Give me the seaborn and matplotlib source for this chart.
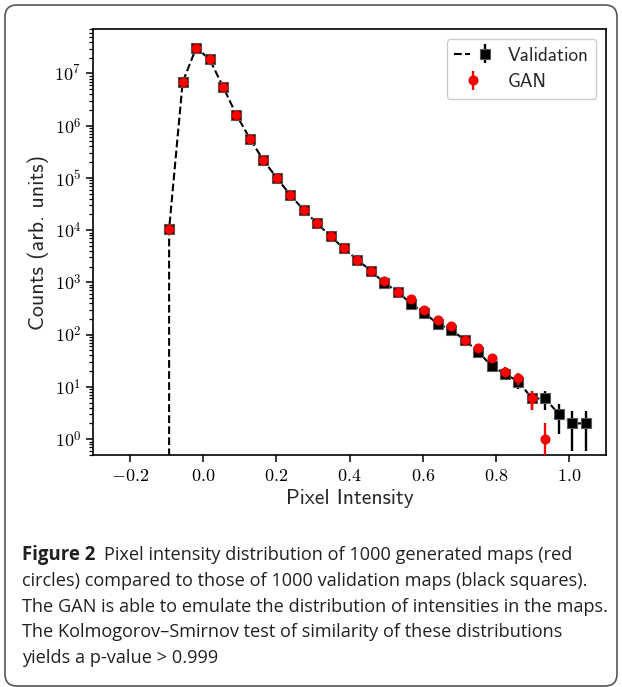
import numpy as np
import pandas as pd
import matplotlib
matplotlib.use("Agg")
import matplotlib.pyplot as plt
import seaborn as sns
from matplotlib.ticker import FuncFormatter, LogLocator, FixedLocator, NullFormatter
from matplotlib.lines import Line2D
from matplotlib.legend_handler import HandlerTuple
from matplotlib.patches import FancyBboxPatch
from matplotlib.transforms import IdentityTransform

# ---------------- data ----------------
pixel_intensity = [-0.093, -0.056, -0.019, 0.018, 0.054, 0.091, 0.128, 0.164,
                   0.201, 0.238, 0.274, 0.311, 0.348, 0.384, 0.421, 0.458,
                   0.494, 0.531, 0.568, 0.604, 0.641, 0.678, 0.714, 0.751,
                   0.788, 0.824, 0.861, 0.898, 0.934, 0.971, 1.008, 1.045]
validation_counts = [1.04e4, 6.8e6, 3.1e7, 1.85e7, 5.6e6, 1.6e6, 5.6e5, 2.2e5,
                     1.0e5, 4.7e4, 2.45e4, 1.35e4, 7.6e3, 4.5e3, 2.7e3, 1.67e3,
                     990, 660, 390, 260, 160, 123, 79, 47,
                     25, 17.8, 12.6, 6, 6, 3, 2, 2]
gan_counts = [1.04e4, 6.8e6, 3.1e7, 1.85e7, 5.6e6, 1.6e6, 5.6e5, 2.2e5,
              1.0e5, 4.7e4, 2.45e4, 1.35e4, 7.6e3, 4.5e3, 2.7e3, 1.67e3,
              1070, 660, 480, 297, 190, 147, 79, 55,
              35, 19.6, 14.8, 6, 1]
empty_bin_count = 0  # bin just below the first filled bin (drawn at the same x)

x_ticks = [-0.2, 0.0, 0.2, 0.4, 0.6, 0.8, 1.0]
y_decades = [0, 1, 2, 3, 4, 5, 6, 7]

x_label = "Pixel Intensity"
y_label = "Counts (arb. units)"
legend_labels = ["Validation", "GAN"]

caption_title = "Figure 2"
caption_lines = [
    "Pixel intensity distribution of 1000 generated maps (red",
    "circles) compared to those of 1000 validation maps (black squares).",
    "The GAN is able to emulate the distribution of intensities in the maps.",
    "The Kolmogorov\u2013Smirnov test of similarity of these distributions",
    "yields a p-value > 0.999",
]

# ---------------- style ----------------
sns.set_style("ticks")
plt.rcParams["font.family"] = ["DejaVu Sans"]
plt.rcParams["mathtext.fontset"] = "cm"
plt.rcParams["axes.linewidth"] = 1.2

W, H = 622, 687
fig = plt.figure(figsize=(W / 100, H / 100), dpi=100)
fig.patch.set_facecolor("white")

ax = fig.add_axes([93.3 / W, 1 - 455.3 / H, (606 - 93.3) / W, (455.3 - 29.3) / H])
ax.set_facecolor("white")

x = np.asarray(pixel_intensity)
val = np.asarray(validation_counts)
gan = np.asarray(gan_counts)
xg = x[: len(gan)]

# dashed connecting line for the validation histogram
line_df = pd.DataFrame({
    "x": np.concatenate([[x[0]], x]),
    "y": np.concatenate([[empty_bin_count], val]),
})
sns.lineplot(data=line_df, x="x", y="y", estimator=None, sort=False,
             color="black", linestyle="--", linewidth=1.5, ax=ax,
             legend=False, zorder=2)

val_cont = ax.errorbar(x, val, yerr=np.sqrt(val), fmt="s", color="black",
                       ms=7.4, mec="0.35", mew=0.8, elinewidth=1.7, capsize=0,
                       zorder=3)
gan_cont = ax.errorbar(xg, gan, yerr=np.sqrt(gan), fmt="o", color="red",
                       ms=6.6, mec="#d00000", mew=0.6, elinewidth=1.7,
                       capsize=0, zorder=4)

ax.set_yscale("log", nonpositive="clip")
ax.set_xlim(-0.3, 1.1)
ax.set_ylim(0.49, 7e7)

ax.xaxis.set_major_locator(FixedLocator(x_ticks))
ax.xaxis.set_major_formatter(FuncFormatter(lambda v, p: r"$%.1f$" % v))
ax.yaxis.set_major_locator(FixedLocator([10.0 ** d for d in y_decades]))
ax.yaxis.set_major_formatter(
    FuncFormatter(lambda v, p: r"$10^{%d}$" % int(round(np.log10(v)))))
ax.yaxis.set_minor_locator(LogLocator(base=10, subs=np.arange(2, 10), numticks=50))
ax.yaxis.set_minor_formatter(NullFormatter())

ax.tick_params(axis="both", which="major", direction="out", length=5,
               width=1.1, labelsize=13, color="black", labelcolor="black")
ax.tick_params(axis="y", which="minor", direction="out", length=3, width=0.9,
               color="black")
for s in ax.spines.values():
    s.set_color("black")
    s.set_linewidth(1.2)

ax.set_xlabel(x_label, family="cmss10", fontsize=15.5, labelpad=3)
ax.set_ylabel(y_label, family="cmss10", fontsize=15.8, labelpad=4)

dash_proxy = Line2D([], [], color="black", linestyle="--", linewidth=1.5)
leg = ax.legend([(dash_proxy, val_cont), gan_cont], legend_labels,
                handler_map={tuple: HandlerTuple(ndivide=None)},
                loc="upper right", prop={"family": "cmss10", "size": 13.8},
                frameon=True, fancybox=True, framealpha=1.0,
                edgecolor="0.8", borderpad=0.4, labelspacing=0.45,
                handletextpad=0.8, borderaxespad=0.5)
leg.get_frame().set_linewidth(1.0)

# ---------------- caption box ----------------
box = FancyBboxPatch((5, 1), 612, 681, boxstyle="round,pad=0,rounding_size=12",
                     transform=IdentityTransform(), facecolor="none",
                     edgecolor="#555555", linewidth=1.2, zorder=0)
fig.add_artist(box)

cap_font = "Open Sans"
cap_size = 13.1
cap_color = "#231f20"
baselines = [560, 586, 611.5, 637, 663]
x0 = 22
t_bold = fig.text(x0 / W, 1 - baselines[0] / H, caption_title, family=cap_font,
                  fontsize=cap_size + 0.3, fontweight="bold", color=cap_color,
                  va="baseline", ha="left")
renderer = fig.canvas.get_renderer()
bb = t_bold.get_window_extent(renderer=renderer)
fig.text((bb.x1 + 9) / W, 1 - baselines[0] / H, caption_lines[0], family=cap_font,
         fontsize=cap_size, color=cap_color, va="baseline", ha="left")
for line, b in zip(caption_lines[1:], baselines[1:]):
    fig.text(x0 / W, 1 - b / H, line, family=cap_font, fontsize=cap_size,
             color=cap_color, va="baseline", ha="left")

fig.savefig("out.png", dpi=100, facecolor="white")
